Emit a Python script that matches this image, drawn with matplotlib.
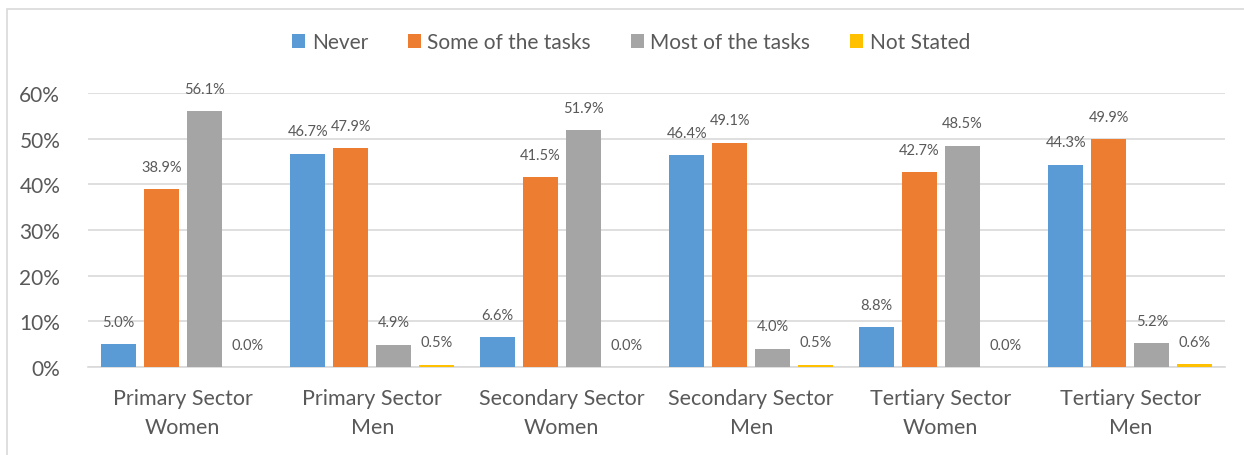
import numpy as np
import matplotlib.pyplot as plt
from matplotlib.patches import Rectangle

plt.rcParams['font.family'] = ['Lato', 'DejaVu Sans']

groups = ['Primary Sector\nWomen', 'Primary Sector\nMen', 'Secondary Sector\nWomen',
          'Secondary Sector\nMen', 'Tertiary Sector\nWomen', 'Tertiary Sector\nMen']
series = ['Never', 'Some of the tasks', 'Most of the tasks', 'Not Stated']
never = [5.0, 46.7, 6.6, 46.4, 8.8, 44.3]
some_tasks = [38.9, 47.9, 41.5, 49.1, 42.7, 49.9]
most_tasks = [56.1, 4.9, 51.9, 4.0, 48.5, 5.2]
not_stated = [0.0, 0.5, 0.0, 0.5, 0.0, 0.6]
colors = ['#5B9BD5', '#ED7D31', '#A5A5A5', '#FFC000']
text_col = '#595959'

fig = plt.figure(figsize=(12.44, 4.56), dpi=100)
# light chart border
fig.patches.append(Rectangle((7 / 1244, -0.1), 1.2, (456 - 10) / 456 + 0.1,
                             transform=fig.transFigure, fill=False,
                             edgecolor='#D9D9D9', linewidth=1.2))
ax = fig.add_axes([88 / 1244, 88 / 456, (1225 - 88) / 1244, (368 - 94) / 456])

x = np.arange(len(groups))
width = 0.185
step = 0.227
for i, (name, vals) in enumerate(zip(series, [never, some_tasks, most_tasks, not_stated])):
    pos = x + (i - 1.5) * step
    ax.bar(pos, vals, width, color=colors[i], label=name, zorder=3)
    for px, v in zip(pos, vals):
        ax.annotate(f'{v:.1f}%', (px, v), xytext=(0, 11), textcoords='offset points',
                    ha='center', va='bottom', fontsize=10.5, color=text_col)

ax.set_xlim(-0.5, len(groups) - 0.5)
ax.set_ylim(0, 60)
ax.set_yticks(range(0, 61, 10))
ax.set_yticklabels([f'{t}%' for t in range(0, 61, 10)])
ax.set_xticks(x)
ax.set_xticklabels(groups, linespacing=1.6)
ax.grid(axis='y', color='#D9D9D9', linewidth=1.2, zorder=0)
ax.tick_params(axis='x', length=0, labelsize=15.5, colors=text_col, pad=15)
ax.tick_params(axis='y', length=0, labelsize=15, colors=text_col, pad=20)
for s in ['top', 'right', 'left']:
    ax.spines[s].set_visible(False)
ax.spines['bottom'].set_color('#D9D9D9')
ax.spines['bottom'].set_linewidth(1.2)

fig.legend(loc='center', bbox_to_anchor=(631 / 1244, 1 - 43 / 456), ncol=4, frameon=False,
           fontsize=15, labelcolor=text_col, handlelength=0.65, handleheight=0.65,
           handletextpad=0.3, columnspacing=1.9)

fig.savefig('out.png', dpi=100)
